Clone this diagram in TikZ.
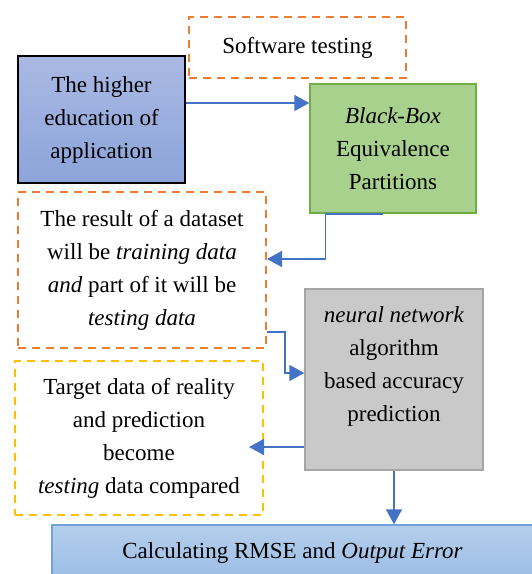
\documentclass[tikz,border=0pt]{standalone}
\usepackage{fontspec}
\setmainfont{Liberation Serif}
\usetikzlibrary{arrows.meta}

\definecolor{dashorange}{HTML}{ED7D31}
\definecolor{dashyellow}{HTML}{FFC000}
\definecolor{arrowblue}{HTML}{4472C4}
\definecolor{apptop}{HTML}{AAB9E3}
\definecolor{appbottom}{HTML}{8CA4DA}
\definecolor{greenfill}{HTML}{A9D18E}
\definecolor{greenline}{HTML}{70AD47}
\definecolor{grayfill}{HTML}{C9C9C9}
\definecolor{grayline}{HTML}{A5A5A5}
\definecolor{rmsetop}{HTML}{B5CEEC}
\definecolor{rmsebottom}{HTML}{9CBDE5}
\definecolor{rmseline}{HTML}{6FA3DA}

\tikzset{
  box/.style={inner sep=0pt, align=center, font=\fontsize{23pt}{33pt}\selectfont},
  dashbox/.style={box, draw, line width=2pt, dash pattern=on 8pt off 6pt},
  arr/.style={draw=arrowblue, line width=1.6pt, -{Triangle[length=15pt,width=16pt]}}
}

\begin{document}
\begin{tikzpicture}[x=1pt,y=1pt]
\clip (0,0) rectangle (532,-574);
\fill[white] (0,0) rectangle (532,-574);
\node[dashbox, draw=dashorange, minimum width=217pt, minimum height=61pt] (soft) at (297.5,-47.5) {Software testing};
\node[box, draw=black, line width=1.4pt, top color=apptop, bottom color=appbottom, minimum width=167pt, minimum height=127pt] (app) at (101.5,-119.5) {The higher\\education of\\application};
\node[box, draw=greenline, line width=1.4pt, fill=greenfill, minimum width=166pt, minimum height=129pt] (bbox) at (393,-148.5) {\textit{Black-Box}\\Equivalence\\Partitions};
\node[dashbox, draw=dashorange, minimum width=248pt, minimum height=156pt] (result) at (142,-270) {The result of a dataset\\will be \textit{training data}\\\textit{and} part of it will be\\\textit{testing data}};
\node[box, draw=grayline, line width=1.4pt, fill=grayfill, minimum width=178pt, minimum height=181pt] (nn) at (394,-379.5) {};
\node[box] (nntext) at (394,-366) {\textit{neural network}\\algorithm\\based accuracy\\prediction};
\node[dashbox, draw=dashyellow, minimum width=248pt, minimum height=154pt] (target) at (139,-438) {Target data of reality\\and prediction\\become\\\textit{testing} data compared};
\node[box, draw=rmseline, line width=1.4pt, top color=rmsetop, bottom color=rmsebottom, minimum width=481pt, minimum height=55pt] (rmse) at (292.5,-552.5) {Calculating RMSE and \textit{Output Error}};
\draw[arr] ([yshift=16.5pt]app.east) -- ([yshift=16.5pt]app.east -| bbox.west);
\draw[arr] ([xshift=-10pt]bbox.south) -- ([xshift=16pt]bbox.south west) |- ([yshift=11pt]result.east);
\draw[arr] ([yshift=-62pt]result.east) -- ++(18,0) |- ([yshift=6.5pt]nn.west);
\draw[arr] ([yshift=-67.5pt]nn.west) -- ([yshift=-67.5pt,xshift=-15pt]nn.west -| target.east);
\draw[arr] (nn.south) -- (nn.south |- rmse.north);
\end{tikzpicture}
\end{document}
